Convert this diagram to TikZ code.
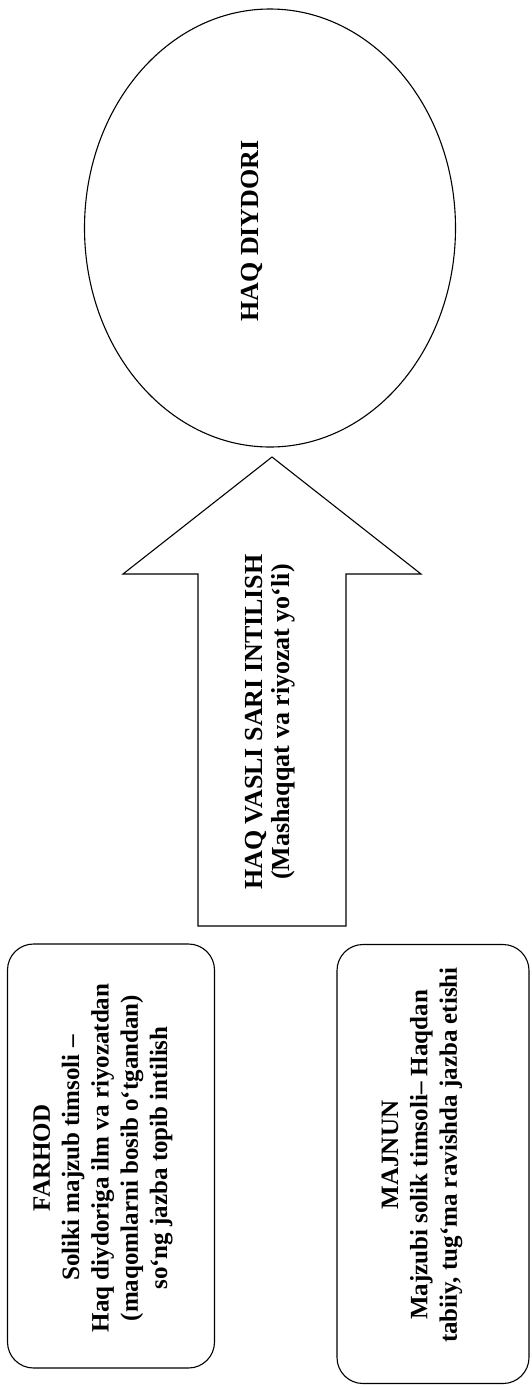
\documentclass[tikz,border=0pt]{standalone}
\usepackage{fontspec}
\setmainfont{Liberation Serif}
\usetikzlibrary{shapes.geometric}
\begin{document}
\begin{tikzpicture}[x=1pt,y=-1pt,line width=1.1pt,
    box/.style={draw,rounded corners=26pt},
    txt/.style={rotate=90,align=center,inner sep=0pt,font=\bfseries\fontsize{25}{29.3}\selectfont}]
\useasboundingbox (0,0) rectangle (532,1387);

        \node[draw,ellipse,inner sep=0pt,minimum width=371pt,minimum height=438pt] (D) at (270,228) {};
        \node[txt,font=\bfseries\fontsize{26}{30}\selectfont] (DT) at (252,231) {HAQ DIYDORI};

        % yo'l
        \draw (272,457) -- (421,574) -- (346,574) -- (346,926) -- (198,926) -- (198,574) -- (123,574) -- cycle;
        \node[txt,font=\bfseries\fontsize{26}{27}\selectfont] (V) at (270,722) {HAQ VASLI SARI INTILISH\\(Mashaqqat va riyozat yo‘li)};

        \node[box,minimum width=207pt,minimum height=424pt] (F) at (111,1156) {};
        \node[txt] (FT) at (103,1158) {FARHOD\\Soliki majzub timsoli –\\Haq diydoriga ilm va riyozatdan\\(maqomlarni bosib o‘tgandan)\\so‘ng jazba topib intilish};

        \node[box,minimum width=192pt,minimum height=439pt] (M) at (433,1164) {};
        \node[txt] (MT) at (422,1155) {MAJNUN\\Majzubi solik timsoli– Haqdan\\tabiiy, tug‘ma ravishda jazba etishi};

\end{tikzpicture}
\end{document}
